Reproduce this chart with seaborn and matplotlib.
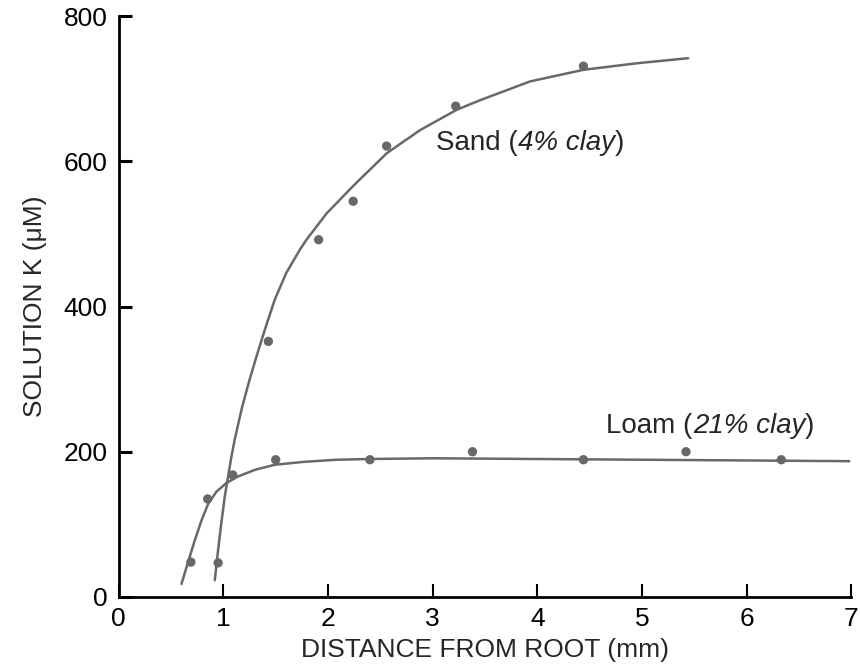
import matplotlib
matplotlib.use("Agg")
import matplotlib.pyplot as plt
import seaborn as sns

# measured points
sand_x = [0.95, 1.43, 1.91, 2.24, 2.56, 3.22, 4.44]
sand_y = [47, 352, 492, 545, 621, 676, 731]
loam_x = [0.69, 0.85, 1.09, 1.50, 2.40, 3.38, 4.44, 5.42, 6.33]
loam_y = [48, 135, 168, 189, 189, 200, 189, 200, 189]

# fitted curves
sand_curve_x = [0.918, 0.95, 0.98, 1.013, 1.045, 1.077, 1.11, 1.18, 1.252, 1.316,
                1.396, 1.49, 1.60, 1.73, 1.794, 1.985, 2.24, 2.56, 2.88, 3.23,
                3.45, 3.93, 4.44, 4.95, 5.44]
sand_curve_y = [23, 65, 101, 138, 166, 193, 218, 262, 300, 331,
                368, 409, 446, 478, 492, 528, 566, 611, 643, 671,
                684, 710, 726, 735, 742]
loam_curve_x = [0.60, 0.663, 0.727, 0.79, 0.854, 0.934, 1.03, 1.14, 1.30, 1.49,
                1.762, 2.08, 2.40, 3.0, 4.0, 5.0, 6.0, 6.98]
loam_curve_y = [18, 48, 78, 105, 128, 145, 157, 166, 175, 182,
                186, 189, 190, 191, 190, 189, 188, 187]

x_ticks = [0, 1, 2, 3, 4, 5, 6, 7]
y_ticks = [0, 200, 400, 600, 800]

sns.set_style("ticks")
plt.rcParams["font.family"] = ["Liberation Sans", "DejaVu Sans"]

fig = plt.figure(figsize=(8.6, 6.7), dpi=100)
ax = fig.add_axes([0.138, 0.109, 0.852, 0.867])

grey = "#686868"
sns.lineplot(x=sand_curve_x, y=sand_curve_y, sort=False, estimator=None,
             color=grey, lw=1.8, ax=ax)
sns.lineplot(x=loam_curve_x, y=loam_curve_y, sort=False, estimator=None,
             color=grey, lw=1.8, ax=ax)
sns.scatterplot(x=sand_x, y=sand_y, color=grey, s=45, edgecolor="none", ax=ax, zorder=3)
sns.scatterplot(x=loam_x, y=loam_y, color=grey, s=45, edgecolor="none", ax=ax, zorder=3)

ax.set_xlim(0, 7)
ax.set_ylim(0, 800)
ax.set_xticks(x_ticks)
ax.set_yticks(y_ticks)
ax.tick_params(direction="in", length=9.5, labelsize=19, colors="black")
ax.tick_params(axis="x", width=1.5, pad=7)
ax.tick_params(axis="y", width=2.2, pad=8)
sns.despine(ax=ax)
for s in ["left", "bottom"]:
    ax.spines[s].set_linewidth(2.0)
    ax.spines[s].set_color("black")

ax.set_xlabel("DISTANCE FROM ROOT (mm)", fontsize=19, labelpad=5)
ax.set_ylabel("SOLUTION K (\u03bcM)", fontsize=19, labelpad=12)


def label(x, y, parts):
    prev = None
    for txt, style in parts:
        if prev is None:
            prev = ax.text(x, y, txt, fontsize=20, style=style, va="baseline", ha="left")
        else:
            prev = ax.annotate(txt, xy=(1, 0), xycoords=prev, fontsize=20,
                               style=style, va="bottom", ha="left")


label(3.03, 616, [("Sand (", "normal"), ("4% clay", "italic"), (")", "normal")])
label(4.66, 226, [("Loam (", "normal"), ("21% clay", "italic"), (")", "normal")])

fig.savefig("out.png", dpi=100)
